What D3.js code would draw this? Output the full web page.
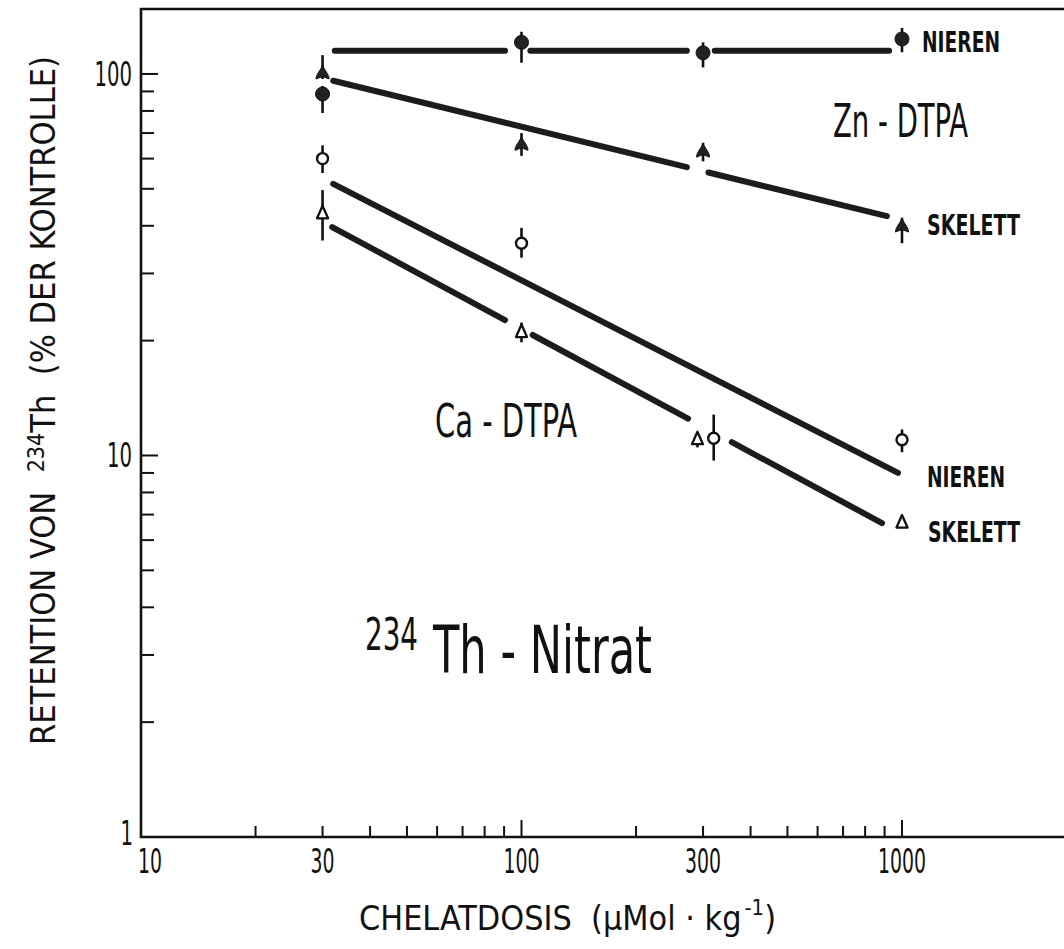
<!DOCTYPE html>
<html>
<head>
<meta charset="utf-8">
<script src="https://cdn.jsdelivr.net/npm/d3@7"></script>
<style>
  body { margin: 0; background: #fff; }
  text { font-family: "Liberation Sans Narrow", "DejaVu Sans Condensed", sans-serif; fill: #111; white-space: pre; }
</style>
</head>
<body>
<div id="chart"></div>
<script>
// --- data ---
// doses (µMol/kg)
var doses = [30, 100, 300, 1000];
var dosesCaNieren = [30, 100, 320, 1000];
var dosesCaSkelett = [30, 100, 290, 1000];

// Zn-DTPA, Nieren (filled circle)
var znNieren   = [88.6, 121, 113.6, 123.5];
var znNierenLo = [79, 107, 104, 114];
var znNierenHi = [93, 129, 121, 132];
// Zn-DTPA, Skelett (filled triangle)
var znSkelett   = [100, 65, 62.4, 39.7];
var znSkelettLo = [97, 61, 59, 36];
var znSkelettHi = [112, 70, 66, 42];
// Ca-DTPA, Nieren (open circle)
var caNieren   = [60, 36, 11.1, 11];
var caNierenLo = [55, 33, 9.7, 10.2];
var caNierenHi = [65, 39.5, 12.8, 11.7];
// Ca-DTPA, Skelett (open triangle)
var caSkelett   = [43, 21, 11, 6.65];
var caSkelettLo = [36.6, 19.8, 10.5, 6.5];
var caSkelettHi = [49.6, 22.3, 11.5, 6.8];

// fitted lines: [dose, value] at both ends, and dose ranges where the line is broken
var znNierenFit  = [[32.3, 115], [925, 115]];
var znSkelettFit = [[32, 96], [913, 42.4]];
var caNierenFit  = [[32, 51.5], [976, 9.0]];
var caSkelettFit = [[31.8, 39.7], [886, 6.65]];
var znNierenGaps  = [[90.5, 105.5], [272, 322]];
var znSkelettGaps = [[272, 310]];
var caNierenGaps  = [];
var caSkelettGaps = [[90.5, 107], [274, 357]];

var xTickLabels = [10, 30, 100, 300, 1000];
var yTickLabels = [1, 10, 100];

// --- layout ---
var W = 1064, H = 949;
var padLeft = 141, padTop = 9, padBottom = 837;

var svg = d3.select("#chart").append("svg").attr("width", W).attr("height", H);

var x = d3.scaleLog().domain([10, 3000]).range([padLeft, padLeft + 380.5 * Math.log10(300)]);
var y = d3.scaleLog().domain([1, 148]).range([padBottom, padTop]);

// frame
svg.append("path")
  .attr("d", "M" + W + "," + padTop + "H" + padLeft + "V" + padBottom + "H" + W)
  .attr("fill", "none").attr("stroke", "#111").attr("stroke-width", 2.6);

// minor/major ticks (inward)
var xTicks = [];
for (var k = 10; k <= 1000; k *= 10) for (var m = 1; m <= 9; m++) if (k * m > 10 && k * m <= 1000) xTicks.push(k * m);
xTicks = xTicks.filter(function(d, i, a) { return a.indexOf(d) === i; });
svg.selectAll(".xt").data(xTicks).enter().append("line")
  .attr("x1", function(d) { return x(d); }).attr("x2", function(d) { return x(d); })
  .attr("y1", padBottom)
  .attr("y2", function(d) { return padBottom - (d === 100 || d === 1000 ? 17 : 11); })
  .attr("stroke", "#111").attr("stroke-width", 2);

var yTicks = [];
for (var k2 = 1; k2 <= 10; k2 *= 10) for (var m2 = 1; m2 <= 10; m2++) if (k2 * m2 > 1) yTicks.push(k2 * m2);
yTicks = yTicks.filter(function(d, i, a) { return a.indexOf(d) === i; });
svg.selectAll(".yt").data(yTicks).enter().append("line")
  .attr("x1", padLeft)
  .attr("x2", function(d) { return padLeft + (d === 10 || d === 100 ? 17 : 13); })
  .attr("y1", function(d) { return y(d); }).attr("y2", function(d) { return y(d); })
  .attr("stroke", "#111").attr("stroke-width", 2);

// tick labels
svg.selectAll(".xl").data(xTickLabels).enter().append("text")
  .attr("x", function(d) { return x(d) + (d === 10 ? 9 : 0); })
  .attr("y", 873)
  .attr("text-anchor", "middle")
  .attr("font-size", 33)
  .attr("textLength", function(d) { return String(d).length * 12; })
  .attr("lengthAdjust", "spacingAndGlyphs")
  .text(function(d) { return d; });

svg.selectAll(".yl").data(yTickLabels).enter().append("text")
  .attr("x", function(d) { return d === 1 ? 133 : 132; })
  .attr("y", function(d) { return y(d) + (d === 1 ? 8 : 12); })
  .attr("text-anchor", "end")
  .attr("font-size", 33)
  .attr("textLength", function(d) { return String(d).length * 12.5; })
  .attr("lengthAdjust", "spacingAndGlyphs")
  .text(function(d) { return d; });

// fitted lines with breaks
function fitSegments(fit, gaps) {
  var d0 = fit[0][0], v0 = fit[0][1], d1 = fit[1][0], v1 = fit[1][1];
  function val(d) {
    var t = (Math.log10(d) - Math.log10(d0)) / (Math.log10(d1) - Math.log10(d0));
    return Math.pow(10, Math.log10(v0) + t * (Math.log10(v1) - Math.log10(v0)));
  }
  var segs = [], cur = d0;
  gaps.forEach(function(g) { segs.push([cur, g[0]]); cur = g[1]; });
  segs.push([cur, d1]);
  return segs.map(function(s) { return [[s[0], val(s[0])], [s[1], val(s[1])]]; });
}
var fits = [
  fitSegments(znNierenFit, znNierenGaps),
  fitSegments(znSkelettFit, znSkelettGaps),
  fitSegments(caNierenFit, caNierenGaps),
  fitSegments(caSkelettFit, caSkelettGaps)
];
var line = d3.line().x(function(d) { return x(d[0]); }).y(function(d) { return y(d[1]); });
fits.forEach(function(segs) {
  svg.append("g").selectAll("path").data(segs).enter().append("path")
    .attr("d", line)
    .attr("fill", "none").attr("stroke", "#1c1c1c")
    .attr("stroke-width", 6).attr("stroke-linecap", "round");
});

// series markers with error bars
var series = [
  { dose: doses, val: znNieren, lo: znNierenLo, hi: znNierenHi, shape: "circle", filled: true },
  { dose: doses, val: znSkelett, lo: znSkelettLo, hi: znSkelettHi, shape: "triangle", filled: true },
  { dose: dosesCaNieren, val: caNieren, lo: caNierenLo, hi: caNierenHi, shape: "circle", filled: false },
  { dose: dosesCaSkelett, val: caSkelett, lo: caSkelettLo, hi: caSkelettHi, shape: "triangle", filled: false }
];
var spade = "M0,-9C1.5,-4 6.5,0 6.5,5L0,2.5L-6.5,5C-6.5,0 -1.5,-4 0,-9Z";
var tri = "M0,-8L5.5,4.5L-5.5,4.5Z";
series.forEach(function(s) {
  var pts = s.dose.map(function(d, i) { return { d: d, v: s.val[i], lo: s.lo[i], hi: s.hi[i] }; });
  var g = svg.append("g");
  g.selectAll("line").data(pts).enter().append("line")
    .attr("x1", function(p) { return x(p.d); }).attr("x2", function(p) { return x(p.d); })
    .attr("y1", function(p) { return y(p.lo); }).attr("y2", function(p) { return y(p.hi); })
    .attr("stroke", "#111").attr("stroke-width", 2.6);
  if (s.shape === "circle") {
    g.selectAll("circle").data(pts).enter().append("circle")
      .attr("cx", function(p) { return x(p.d); }).attr("cy", function(p) { return y(p.v); })
      .attr("r", s.filled ? 7 : 5.5)
      .attr("fill", s.filled ? "#222" : "#fff")
      .attr("stroke", "#111").attr("stroke-width", s.filled ? 1 : 2.4);
  } else {
    g.selectAll("path").data(pts).enter().append("path")
      .attr("transform", function(p) { return "translate(" + x(p.d) + "," + y(p.v) + ")"; })
      .attr("d", s.filled ? spade : tri)
      .attr("fill", s.filled ? "#222" : "#fff")
      .attr("stroke", "#111").attr("stroke-width", s.filled ? 1 : 2.3)
      .attr("stroke-linejoin", "round");
  }
});

// annotations
function label(txt, xx, yy, size, len, weight) {
  return svg.append("text").attr("x", xx).attr("y", yy).attr("font-size", size)
    .attr("font-weight", weight || "normal")
    .attr("textLength", len).attr("lengthAdjust", "spacingAndGlyphs").text(txt);
}
label("NIEREN", 922, 52, 28, 78, "bold");
label("Zn - DTPA", 833, 137, 46, 135);
label("SKELETT", 927, 235, 28, 93, "bold");
label("Ca - DTPA", 435, 437, 46, 142);
label("NIEREN", 927, 487, 28, 78, "bold");
label("SKELETT", 928, 542, 28, 92, "bold");
label("234", 365, 650, 44, 53);
label("Th - Nitrat", 433, 673, 66, 219);

// axis titles
var xt = svg.append("text").attr("x", 359).attr("y", 930).attr("font-size", 34)
  .attr("textLength", 417).attr("lengthAdjust", "spacingAndGlyphs");
xt.append("tspan").text("CHELATDOSIS  (\u00b5Mol \u00b7 kg");
xt.append("tspan").attr("font-size", 22).attr("dx", 3).attr("dy", -15).text("-1");
xt.append("tspan").attr("dy", 15).text(")");

var yt = svg.append("text").attr("transform", "translate(55,745) rotate(-90)")
  .attr("font-size", 34).attr("textLength", 689).attr("lengthAdjust", "spacingAndGlyphs");
yt.append("tspan").text("RETENTION VON  ");
yt.append("tspan").attr("font-size", 23).attr("dy", -11).text("234");
yt.append("tspan").attr("dy", 11).text("Th  (% DER KONTROLLE)");
</script>
</body>
</html>
